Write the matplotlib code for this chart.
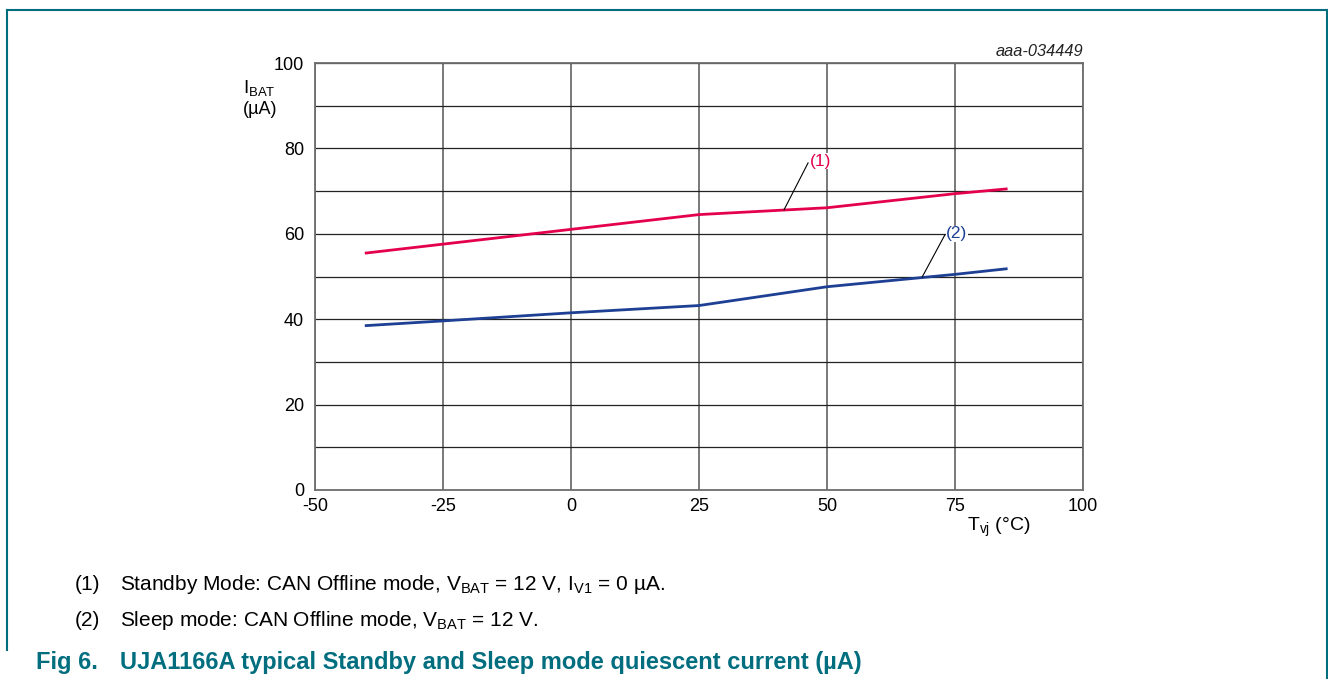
import matplotlib
matplotlib.use('Agg')
import matplotlib.pyplot as plt
from matplotlib.lines import Line2D

plt.rcParams['font.family'] = ['Liberation Sans', 'DejaVu Sans']
plt.rcParams['mathtext.fontset'] = 'custom'
plt.rcParams['mathtext.rm'] = 'Liberation Sans'
plt.rcParams['mathtext.it'] = 'Liberation Sans:italic'
plt.rcParams['axes.unicode_minus'] = False

# data
temp_standby = [-40, 25, 50, 75, 85]
ibat_standby = [55.5, 64.5, 66.1, 69.4, 70.5]
temp_sleep = [-40, -25, 0, 25, 50, 75, 85]
ibat_sleep = [38.5, 39.6, 41.5, 43.2, 47.6, 50.5, 51.8]

x_ticks = [-50, -25, 0, 25, 50, 75, 100]
y_ticks = [0, 20, 40, 60, 80, 100]

red = '#e5004f'
blue = '#1d3f94'
teal = '#006e7f'

W, H = 1328, 679
fig = plt.figure(figsize=(W / 100, H / 100), dpi=100)

def fx(px):
    return px / W

def fy(py):
    return 1 - py / H

ax = fig.add_axes([fx(315), fy(490), fx(1083) - fx(315), fy(63) - fy(490)])
ax.set_xlim(-50, 100)
ax.set_ylim(0, 100)
ax.set_xticks(x_ticks)
ax.set_yticks(y_ticks)
ax.set_yticks(range(0, 101, 10), minor=True)
ax.tick_params(length=0, labelsize=13, pad=8)
ax.tick_params(axis='x', pad=6)
ax.grid(True, which='both', axis='y', color='#222222', lw=0.9)
ax.grid(True, which='major', axis='x', color='#6e6e6e', lw=1.3)
ax.tick_params(which='minor', length=0)
for s in ax.spines.values():
    s.set_color('#6e6e6e')
    s.set_linewidth(1.3)
ax.set_axisbelow(True)

ax.plot(temp_standby, ibat_standby, color=red, lw=2)
ax.plot(temp_sleep, ibat_sleep, color=blue, lw=2)

# curve labels with leader lines
ax.plot([46.3, 41.6], [76.6, 65.6], color='black', lw=0.8)
ax.text(46.6, 77.0, '(1)', color=red, fontsize=12.5, ha='left', va='center',
        bbox=dict(facecolor='white', edgecolor='none', pad=0.5))
ax.plot([73.0, 68.6], [59.7, 49.9], color='black', lw=0.8)
ax.text(73.3, 60.0, '(2)', color=blue, fontsize=12.5, ha='left', va='center',
        bbox=dict(facecolor='white', edgecolor='none', pad=0.5))

fig.text(fx(1083), fy(51), 'aaa-034449', ha='right', va='center',
         fontsize=11.8, style='italic', color='#222222')
fig.text(fx(243), fy(88), r'I$_{\mathrm{BAT}}$', ha='left', va='center', fontsize=13.5)
fig.text(fx(243), fy(109), '(µA)', ha='left', va='center', fontsize=13)
fig.text(fx(967), fy(527), r'T$_{\mathrm{vj}}$ (°C)', ha='left', va='center', fontsize=14)

# footnotes
fig.text(fx(75), fy(585), '(1)', ha='left', va='center', fontsize=15)
fig.text(fx(120), fy(585), r'Standby Mode: CAN Offline mode, V$_{\mathrm{BAT}}$ = 12 V, I$_{\mathrm{V1}}$ = 0 µA.',
         ha='left', va='center', fontsize=15)
fig.text(fx(75), fy(620), '(2)', ha='left', va='center', fontsize=15)
fig.text(fx(120), fy(620), r'Sleep mode: CAN Offline mode, V$_{\mathrm{BAT}}$ = 12 V.',
         ha='left', va='center', fontsize=15)
fig.text(fx(36), fy(662), 'Fig 6.', ha='left', va='center', fontsize=17,
         fontweight='bold', color=teal)
fig.text(fx(120), fy(662), 'UJA1166A typical Standby and Sleep mode quiescent current (µA)',
         ha='left', va='center', fontsize=17, fontweight='bold', color=teal)

# frame
fig.add_artist(Line2D([fx(6.5), fx(1326.5)], [fy(9.5), fy(9.5)], color=teal, lw=1.5))
fig.add_artist(Line2D([fx(6.5), fx(6.5)], [fy(9.5), fy(650)], color=teal, lw=1.5))
fig.add_artist(Line2D([fx(1326.5), fx(1326.5)], [fy(9.5), fy(679)], color=teal, lw=1.5))

fig.savefig('out.png', dpi=100)
